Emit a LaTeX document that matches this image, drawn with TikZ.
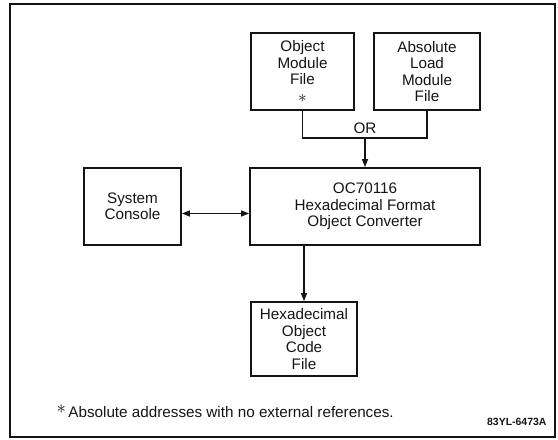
\documentclass[tikz,border=0pt]{standalone}
\usepackage{fontspec}
\setmainfont{Liberation Sans}
\usetikzlibrary{positioning, arrows.meta}
\definecolor{inkblack}{RGB}{20, 20, 20}

\begin{document}
\begin{tikzpicture}[
  x=1bp, y=-1bp,
  every node/.style={font=\fontsize{15.3}{16.5}\selectfont, text=inkblack},
  filebox/.style={
    rectangle, draw=inkblack, line width=1.8bp,
    minimum width=#1, minimum height=77bp,
    align=center, inner sep=0pt
  },
  arrow/.style={-{Triangle[length=8bp, width=6bp]}, line width=1.2bp, draw=inkblack},
  dblarrow/.style={{Triangle[length=8bp, width=6bp]}-{Triangle[length=8bp, width=6bp]},
                   line width=1.2bp, draw=inkblack},
  link/.style={line width=1.2bp, draw=inkblack}
]

\useasboundingbox (0,0) rectangle (558,440);

% ── Outer frame ───────────────────────────────────────────────────────────────
\draw[line width=1.5bp, inkblack] (10,4) rectangle (555,437);

% ── Input files ───────────────────────────────────────────────────────────────
\node[filebox=103bp] (objfile) at (302.5,71.5)
  {Object\\Module\\File\\[1bp]\scalebox{1.2}{$\ast$}};

\node[filebox=106bp] (absfile) at (427,71.5)
  {Absolute\\Load\\Module\\File};

% ── Converter and console ─────────────────────────────────────────────────────
\node[filebox=230bp] (conv) at (365,206.5)
  {OC70116\\Hexadecimal Format\\Object Converter};

\node[filebox=97bp] (console) at (132.5,206.5)
  {System\\Console};

% ── Output file ───────────────────────────────────────────────────────────────
\node[filebox=106bp, minimum height=74bp] (hexfile) at (304,339)
  {Hexadecimal\\Object\\Code\\File};

% OR join of the two inputs
\coordinate (orjoin) at (365,138);
\draw[link] (objfile.south) |- (orjoin) -| (absfile.south);
\node[above=1bp of orjoin] (orlabel) {OR};
\draw[arrow] (orjoin) -- (conv.north);

% arrows converter
\draw[dblarrow] ([yshift=-7bp]console.east) -- ([yshift=-7bp]conv.west);
\draw[arrow] (conv.south -| hexfile.north) -- (hexfile.north);

% ── Footnote and figure number ────────────────────────────────────────────────
\node[anchor=base west] (note) at (53,417)
  {\raisebox{4bp}{\scalebox{1.3}{$\ast$}}\,Absolute addresses with no external references.};

\node[anchor=base east, font=\fontsize{10.5}{12}\bfseries] (fignum) at (550,425)
  {83YL-6473A};

\end{tikzpicture}
\end{document}
